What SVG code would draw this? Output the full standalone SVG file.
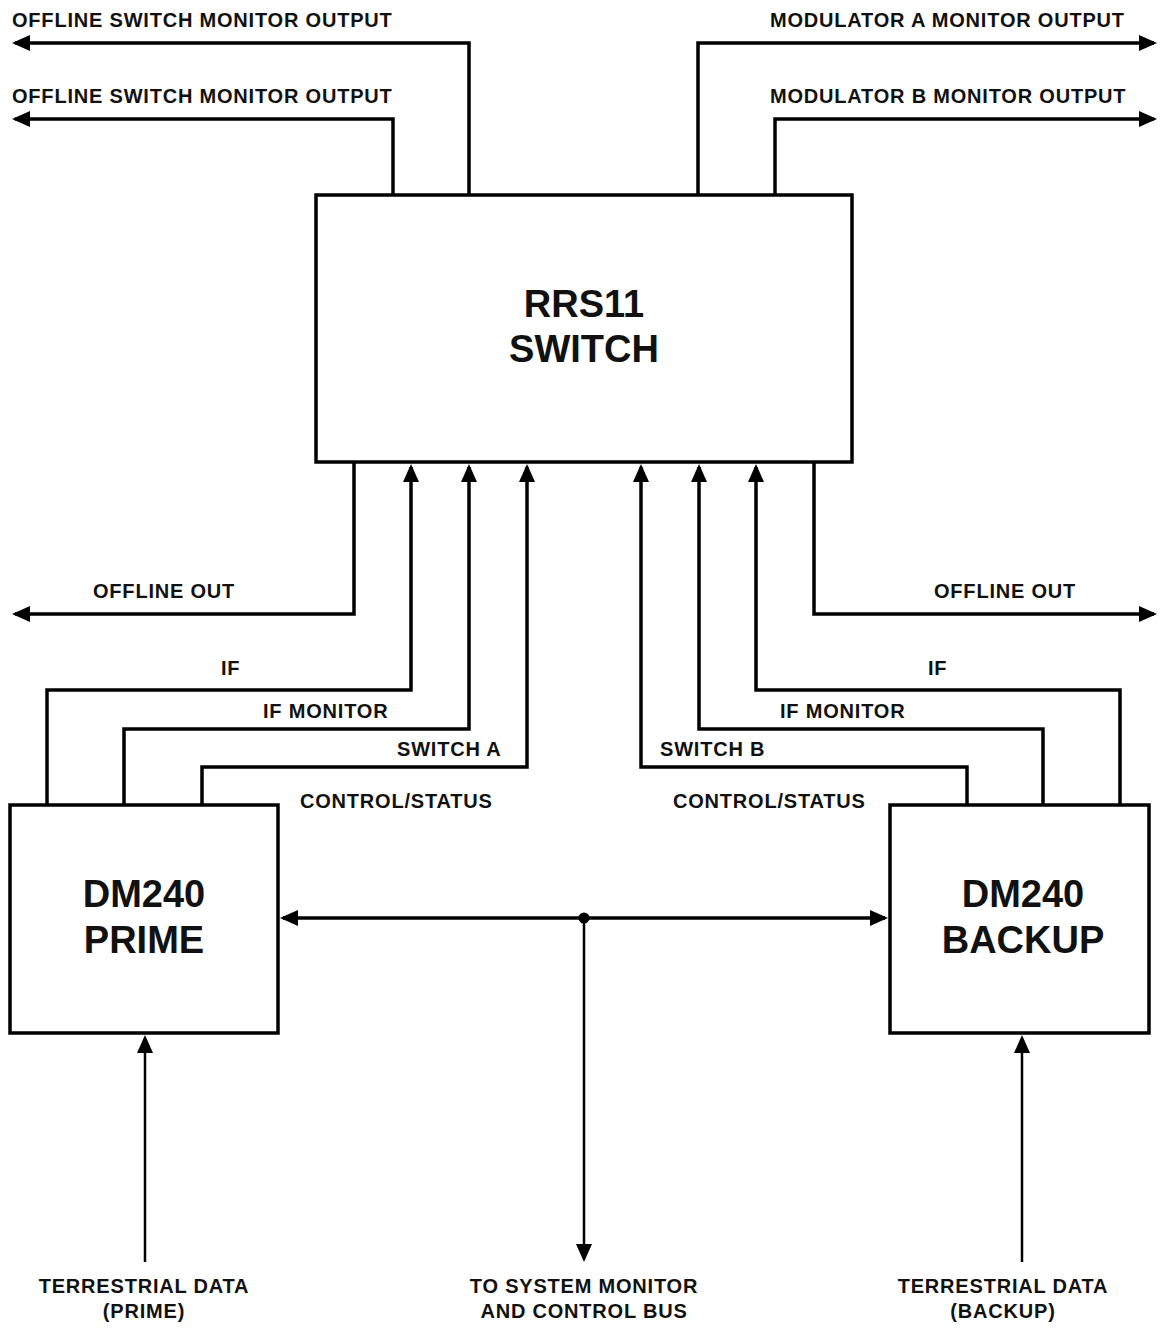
<svg xmlns="http://www.w3.org/2000/svg" width="1160" height="1328" viewBox="0 0 1160 1328">
<defs>
<marker id="ah" markerUnits="userSpaceOnUse" markerWidth="19" markerHeight="16" refX="15" refY="8" orient="auto">
<path d="M0,0 L18,8 L0,16 z" fill="#000"/>
</marker>
<style>
.box{fill:#fff;stroke:#000;stroke-width:3.5}
.ln{fill:none;stroke:#000;stroke-width:3.5;stroke-linejoin:miter}
.thin{fill:none;stroke:#000;stroke-width:2.5}
.arr{marker-end:url(#ah)}
.lbl{font-family:"Liberation Sans",Arial,sans-serif;font-weight:bold;font-size:20px;letter-spacing:0.8px;fill:#111}
.big{font-family:"Liberation Sans",Arial,sans-serif;font-weight:bold;font-size:38px;fill:#111;text-anchor:middle}
.mid{text-anchor:middle}
</style>
</defs>
<rect width="1160" height="1328" fill="#fff"/>
<g id="connectors">
<path class="ln arr" d="M469,195 V43 H15"/>
<path class="ln arr" d="M393,195 V119 H15"/>
<path class="ln arr" d="M698,195 V43 H1154"/>
<path class="ln arr" d="M775,195 V119 H1154"/>
<path class="ln arr" d="M354,462 V614 H15"/>
<path class="ln arr" d="M814,462 V614 H1154"/>
<path class="ln arr" d="M47,805 V690 H411 V467"/>
<path class="ln arr" d="M124,805 V729 H469 V467"/>
<path class="ln arr" d="M202,805 V767 H527 V467"/>
<path class="ln arr" d="M1120,805 V690 H756 V467"/>
<path class="ln arr" d="M1043,805 V729 H699 V467"/>
<path class="ln arr" d="M967,805 V767 H641 V467"/>
<path class="ln arr" d="M584,918 H283"/>
<path class="ln arr" d="M584,918 H885"/>
<path class="thin arr" d="M584,918 V1259"/>
<path class="thin arr" d="M145,1262 V1038"/>
<path class="thin arr" d="M1022,1262 V1038"/>
<circle cx="584" cy="918" r="5.5" fill="#000"/>
</g>
<g id="rrs11">
<rect class="box" x="316" y="195" width="536" height="267"/>
<text class="big" x="584" y="317">RRS11</text>
<text class="big" x="584" y="362">SWITCH</text>
</g>
<g id="dm240-prime">
<rect class="box" x="10" y="805" width="268" height="228"/>
<text class="big" x="144" y="907">DM240</text>
<text class="big" x="144" y="953">PRIME</text>
</g>
<g id="dm240-backup">
<rect class="box" x="890" y="805" width="259" height="228"/>
<text class="big" x="1023" y="907">DM240</text>
<text class="big" x="1023" y="953">BACKUP</text>
</g>
<g id="labels">
<text class="lbl" x="12" y="27">OFFLINE SWITCH MONITOR OUTPUT</text>
<text class="lbl" x="12" y="103">OFFLINE SWITCH MONITOR OUTPUT</text>
<text class="lbl" x="770" y="27">MODULATOR A MONITOR OUTPUT</text>
<text class="lbl" x="770" y="103">MODULATOR B MONITOR OUTPUT</text>
<text class="lbl" x="93" y="598">OFFLINE OUT</text>
<text class="lbl" x="934" y="598">OFFLINE OUT</text>
<text class="lbl" x="221" y="675">IF</text>
<text class="lbl" x="263" y="718">IF MONITOR</text>
<text class="lbl" x="397" y="756">SWITCH A</text>
<text class="lbl" x="300" y="808">CONTROL/STATUS</text>
<text class="lbl" x="928" y="675">IF</text>
<text class="lbl" x="780" y="718">IF MONITOR</text>
<text class="lbl" x="660" y="756">SWITCH B</text>
<text class="lbl" x="673" y="808">CONTROL/STATUS</text>
<text class="lbl mid" x="144" y="1293">TERRESTRIAL DATA</text>
<text class="lbl mid" x="144" y="1318">(PRIME)</text>
<text class="lbl mid" x="584" y="1293">TO SYSTEM MONITOR</text>
<text class="lbl mid" x="584" y="1318">AND CONTROL BUS</text>
<text class="lbl mid" x="1003" y="1293">TERRESTRIAL DATA</text>
<text class="lbl mid" x="1003" y="1318">(BACKUP)</text>
</g>
</svg>
